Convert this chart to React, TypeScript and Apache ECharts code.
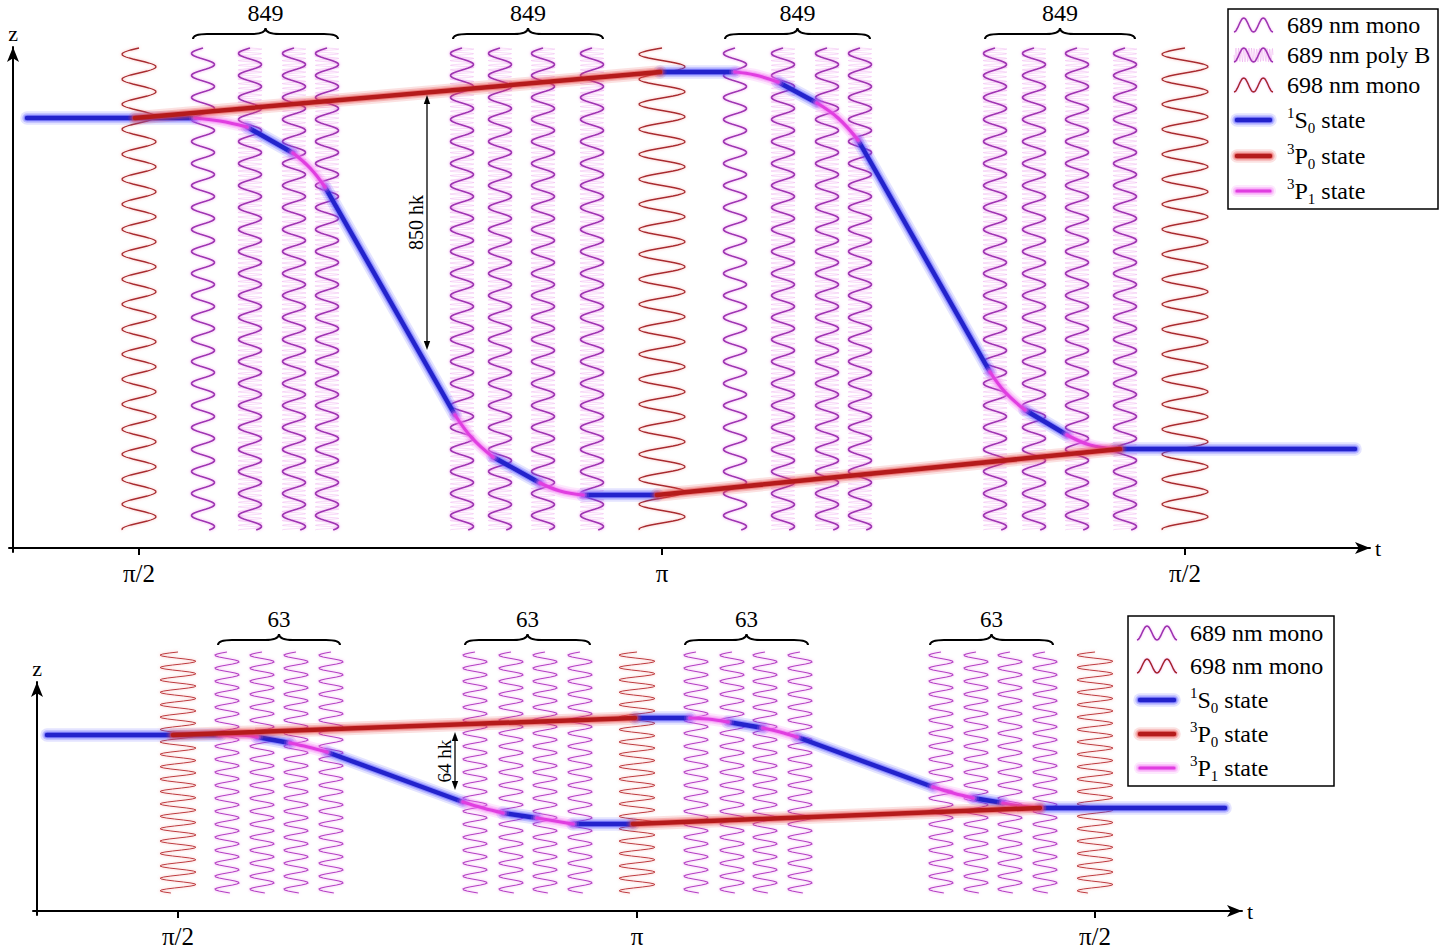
import React, { useEffect, useRef } from 'react';
import * as echarts from 'echarts';

const FONT = 'Liberation Serif';

// ---------------- TOP PANEL (849 pulses) ----------------
const topTickValues = [126, 649, 1172];
const topTickLabels = ['π/2', 'π', 'π/2'];
const topBeamX = [126, 190, 237, 281, 314, 449, 487, 530, 579, 649, 722, 770, 814, 847, 982, 1021, 1064, 1112, 1172];
const topBeamKind = ['698', '689m', '689p', '689p', '689p', '689p', '689p', '689p', '689p', '698w', '689m', '689p', '689p', '689p', '689p', '689p', '689p', '689p', '698w'];
const topBeamSpan = [18, 500];
const topBraces = [[180, 325], [440, 590], [712, 857], [972, 1122]];
const topBraceLabels = ['849', '849', '849', '849'];
const topBraceZ = 509;
const topS0 = [
  [[14, 430], [182, 430]],
  [[234, 421], [280, 395]],
  [[312, 361], [442, 133]],
  [[480, 91], [527, 65]],
  [[570, 53], [644, 53]],
  [[647, 476], [722, 476]],
  [[765, 466], [804, 445]],
  [[845, 408], [977, 176]],
  [[1012, 138], [1054, 113]],
  [[1102, 99], [1342, 99]],
];
const topP1 = [
  [[182, 430], [207, 427], [234, 421]],
  [[280, 395], [297, 380], [312, 361]],
  [[442, 133], [459, 110], [480, 91]],
  [[527, 65], [547, 57], [570, 53]],
  [[722, 476], [742, 473], [765, 466]],
  [[804, 445], [825, 430], [845, 408]],
  [[977, 176], [992, 156], [1012, 138]],
  [[1054, 113], [1077, 103], [1102, 99]],
];
const topP0 = [
  [[122, 430], [647, 476]],
  [[644, 53], [1107, 99]],
];
const topGapX = 414;
const topGapZ = [198, 453];
const topGapLabel = '850 hk';

// ---------------- BOTTOM PANEL (63 pulses) ----------------
const botTickValues = [141, 600, 1058];
const botTickLabels = ['π/2', 'π', 'π/2'];
const botBeamX = [141, 190, 225, 259, 294, 438, 474, 508, 543, 600, 659, 695, 728, 763, 904, 939, 973, 1008, 1058];
const botBeamKind = ['698s', '689s', '689s', '689s', '689s', '689s', '689s', '689s', '689s', '698s', '689s', '689s', '689s', '689s', '689s', '689s', '689s', '689s', '698s'];
const botBeamSpan = [18, 259];
const botBraces = [[181, 303], [428, 553], [648, 771], [893, 1016]];
const botBraceLabels = ['63', '63', '63', '63'];
const botBraceZ = 266;
const botS0 = [
  [[10, 176], [183, 176]],
  [[220, 174], [253, 168]],
  [[290, 159], [426, 109]],
  [[466, 98], [500, 93]],
  [[536, 87], [596, 87]],
  [[598, 193], [653, 193]],
  [[691, 189], [726, 183]],
  [[760, 174], [896, 124]],
  [[936, 113], [966, 108]],
  [[1003, 103], [1188, 103]],
];
const botP1 = [
  [[183, 176], [201, 176], [220, 174]],
  [[253, 168], [271, 164], [290, 159]],
  [[426, 109], [446, 103], [466, 98]],
  [[500, 93], [518, 90], [536, 87]],
  [[653, 193], [671, 192], [691, 189]],
  [[726, 183], [743, 179], [760, 174]],
  [[896, 124], [916, 118], [936, 113]],
  [[966, 108], [983, 105], [1003, 103]],
];
const botP0 = [
  [[136, 176], [598, 193]],
  [[596, 87], [1003, 103]],
];
const botGapX = 418;
const botGapZ = [121, 179];
const botGapLabel = '64 hk';

// ---------------- STYLES ----------------
const RED_WAVE = '#a82a2e';
const RED_GLOW = 'rgba(240,120,120,0.55)';
const MAG_WAVE = '#9e35b2';
const MAG_GLOW = 'rgba(235,120,235,0.7)';
const WAVE: any = {
  '698': { amp: 17, period: 25, color: RED_WAVE, glow: RED_GLOW, width: 1.3 },
  '698w': { amp: 23, period: 25, color: RED_WAVE, glow: RED_GLOW, width: 1.3 },
  '689m': { amp: 11.5, period: 22, color: MAG_WAVE, glow: MAG_GLOW, width: 1.7 },
  '689p': { amp: 11.5, period: 22, color: MAG_WAVE, glow: MAG_GLOW, width: 1.7, poly: 4.6 },
  '698s': { amp: 18, period: 12.4, color: '#bd3a3e', glow: RED_GLOW, width: 1.0 },
  '689s': { amp: 12, period: 13, color: '#b440c4', glow: MAG_GLOW, width: 1.2 },
};
const STATE: any = {
  S0: { color: '#2323cc', width: 4.5, halo: 'rgba(80,80,255,', z: 3 },
  P1: { color: '#e03ee0', width: 3.2, halo: 'rgba(245,110,245,', z: 4 },
  P0: { color: '#b51b1b', width: 4.5, halo: 'rgba(230,70,70,', z: 5 },
};
const HALO = [
  { extra: 9, alpha: 0.16 },
  { extra: 5, alpha: 0.28 },
  { extra: 2, alpha: 0.45 },
];

function waveSeries(gridIdx: number, xs: number[], kinds: string[], span: number[]) {
  return {
    type: 'custom',
    xAxisIndex: gridIdx,
    yAxisIndex: gridIdx,
    clip: false,
    silent: true,
    z: 1,
    data: xs.map((x) => [x, span[1]]),
    renderItem: (params: any, api: any) => {
      const i = params.dataIndex;
      const k = WAVE[kinds[i]];
      const top = api.coord([xs[i], span[1]]);
      const bot = api.coord([xs[i], span[0]]);
      const children: any[] = [];
      if (k.poly) {
        const bg: number[][] = [];
        for (let y = top[1]; y <= bot[1]; y += 0.5) {
          bg.push([top[0] + k.amp * 1.05 * Math.sin((2 * Math.PI * (y - top[1])) / k.poly), y]);
        }
        children.push({ type: 'polyline', shape: { points: bg }, style: { fill: 'none', stroke: 'rgba(232,140,232,0.45)', lineWidth: 0.7 } });
      }
      const pts: number[][] = [];
      for (let y = top[1]; y <= bot[1]; y += 1) {
        pts.push([top[0] + k.amp * Math.sin((2 * Math.PI * (y - top[1])) / k.period + Math.PI), y]);
      }
      children.push({ type: 'polyline', shape: { points: pts }, style: { fill: 'none', stroke: k.color, lineWidth: k.width, shadowBlur: 3, shadowColor: k.glow } });
      return { type: 'group', children };
    },
  };
}

function braceSeries(gridIdx: number, braces: number[][], labels: string[], zEnd: number, fs: number) {
  return {
    type: 'custom',
    xAxisIndex: gridIdx,
    yAxisIndex: gridIdx,
    clip: false,
    silent: true,
    data: braces.map((b) => [b[0], zEnd]),
    renderItem: (params: any, api: any) => {
      const i = params.dataIndex;
      const p0 = api.coord([braces[i][0], zEnd]);
      const p1 = api.coord([braces[i][1], zEnd]);
      const a = p0[0], b = p1[0], m = (a + b) / 2;
      const ye = p0[1], ym = ye - 5, yt = ye - 11, r = 14;
      const d = `M${a},${ye} Q${a},${ym} ${a + r},${ym} L${m - r},${ym} Q${m},${ym} ${m},${yt} Q${m},${ym} ${m + r},${ym} L${b - r},${ym} Q${b},${ym} ${b},${ye}`;
      return {
        type: 'group',
        children: [
          { type: 'path', shape: { pathData: d }, style: { fill: 'none', stroke: '#000', lineWidth: 2 } },
          { type: 'text', x: m, y: yt - 3, style: { text: labels[i], fontFamily: FONT, fontSize: fs, fill: '#000', align: 'center', verticalAlign: 'bottom' } },
        ],
      };
    },
  };
}

function gapSeries(gridIdx: number, x: number, z: number[], label: string, fs: number) {
  return {
    type: 'custom',
    xAxisIndex: gridIdx,
    yAxisIndex: gridIdx,
    clip: false,
    silent: true,
    z: 6,
    data: [[x, z[0]]],
    renderItem: (params: any, api: any) => {
      const t = api.coord([x, z[1]]);
      const b = api.coord([x, z[0]]);
      const h = 9, w = 3.2;
      return {
        type: 'group',
        children: [
          { type: 'line', shape: { x1: t[0], y1: t[1] + 4, x2: b[0], y2: b[1] - 4 }, style: { stroke: '#000', lineWidth: 1.3 } },
          { type: 'polygon', shape: { points: [[t[0], t[1]], [t[0] - w, t[1] + h], [t[0] + w, t[1] + h]] }, style: { fill: '#000' } },
          { type: 'polygon', shape: { points: [[b[0], b[1]], [b[0] - w, b[1] - h], [b[0] + w, b[1] - h]] }, style: { fill: '#000' } },
          { type: 'text', x: t[0] - 11, y: (t[1] + b[1]) / 2, rotation: Math.PI / 2, style: { text: label, fontFamily: FONT, fontSize: fs, fill: '#000', align: 'center', verticalAlign: 'middle' } },
        ],
      };
    },
  };
}

function stateSeries(gridIdx: number, segs: number[][][], key: string) {
  const s = STATE[key];
  const out: any[] = [];
  const base = (seg: number[][]) => ({
    type: 'line',
    xAxisIndex: gridIdx,
    yAxisIndex: gridIdx,
    data: seg,
    symbol: 'none',
    silent: true,
    clip: false,
    smooth: seg.length > 2 ? 0.4 : false,
    z: s.z,
  });
  segs.forEach((seg) => {
    HALO.forEach((h) => {
      out.push({ ...base(seg), lineStyle: { color: s.halo + h.alpha + ')', width: s.width + h.extra, cap: 'round' } });
    });
    out.push({ ...base(seg), lineStyle: { color: s.color, width: s.width, cap: 'round' } });
  });
  return out;
}

function xAxisFor(gridIdx: number, min: number, max: number, ticks: number[], labels: string[]) {
  return {
    gridIndex: gridIdx,
    type: 'value',
    min,
    max,
    name: 't',
    nameLocation: 'end',
    nameGap: 5,
    nameTextStyle: { fontFamily: FONT, fontSize: 22, color: '#000' },
    axisLine: { onZero: true, symbol: ['none', 'arrow'], symbolSize: [9, 15], lineStyle: { color: '#000', width: 2 } },
    axisTick: { show: true, customValues: ticks, length: 7, lineStyle: { color: '#000', width: 2 } },
    axisLabel: {
      customValues: ticks,
      formatter: (v: number) => {
        const idx = ticks.indexOf(Math.round(v));
        return idx >= 0 ? labels[idx] : '';
      },
      fontFamily: FONT,
      fontSize: 25,
      color: '#000',
      margin: 9,
    },
    splitLine: { show: false },
  };
}

function yAxisFor(gridIdx: number, min: number, max: number) {
  return {
    gridIndex: gridIdx,
    type: 'value',
    min,
    max,
    name: 'z',
    nameLocation: 'end',
    nameGap: 3,
    nameTextStyle: { fontFamily: FONT, fontSize: 22, color: '#000' },
    axisLine: { onZero: true, symbol: ['none', 'arrow'], symbolSize: [9, 15], lineStyle: { color: '#000', width: 2 } },
    axisTick: { show: false },
    axisLabel: { show: false },
    splitLine: { show: false },
  };
}

// ---------------- LEGENDS (graphic) ----------------
function waveIcon(x0: number, x1: number, cy: number, amp: number, color: string, poly: boolean) {
  const els: any[] = [];
  if (poly) {
    const bg: number[][] = [];
    for (let x = x0; x <= x1; x += 0.5) bg.push([x, cy + amp * Math.sin((2 * Math.PI * (x - x0)) / 2.6)]);
    els.push({ type: 'polyline', shape: { points: bg }, style: { fill: 'none', stroke: 'rgba(232,140,232,0.55)', lineWidth: 0.7 } });
  }
  const pts: number[][] = [];
  for (let i = 0; i <= 60; i++) {
    const t = i / 60;
    pts.push([x0 + t * (x1 - x0), cy + amp * Math.cos(2 * Math.PI * 2 * t)]);
  }
  els.push({ type: 'polyline', shape: { points: pts }, style: { fill: 'none', stroke: color, lineWidth: 1.6, shadowBlur: 2, shadowColor: 'rgba(235,120,235,0.5)' } });
  return els;
}
function stateIcon(x0: number, x1: number, cy: number, key: string) {
  const s = STATE[key];
  const els: any[] = HALO.map((h) => ({ type: 'line', shape: { x1: x0, y1: cy, x2: x1, y2: cy }, style: { stroke: s.halo + h.alpha + ')', lineWidth: s.width + h.extra, lineCap: 'round' } }));
  els.push({ type: 'line', shape: { x1: x0, y1: cy, x2: x1, y2: cy }, style: { stroke: s.color, lineWidth: s.width, lineCap: 'round' } });
  return els;
}
const RICH = {
  sup: { fontFamily: FONT, fontSize: 15, lineHeight: 16, verticalAlign: 'top', fill: '#000' },
  sub: { fontFamily: FONT, fontSize: 15, lineHeight: 16, verticalAlign: 'bottom', fill: '#000' },
};
function legendText(x: number, cy: number, text: string) {
  return {
    type: 'text',
    x,
    y: cy,
    style: { text, fontFamily: FONT, fontSize: 24, lineHeight: 30, fill: '#000', align: 'left', verticalAlign: 'middle', rich: RICH },
  };
}
function buildLegend(box: number[], iconX: number[], textX: number, rows: any[]) {
  const els: any[] = [
    { type: 'rect', shape: { x: box[0], y: box[1], width: box[2], height: box[3] }, style: { fill: '#fff', stroke: '#000', lineWidth: 1.5 }, z: 10 },
  ];
  rows.forEach((r) => {
    let icon: any[];
    if (r.kind === 'S0' || r.kind === 'P0' || r.kind === 'P1') icon = stateIcon(iconX[0] + 3, iconX[1] - 3, r.y, r.kind);
    else icon = waveIcon(iconX[0], iconX[1], r.y, 7, r.kind === '698' ? RED_WAVE : MAG_WAVE, r.kind === '689p');
    icon.forEach((e) => els.push({ ...e, z: 11 }));
    els.push({ ...legendText(textX, r.y, r.text), z: 11 });
  });
  return els;
}
const topLegendRows = [
  { kind: '689m', text: '689 nm mono', y: 25 },
  { kind: '689p', text: '689 nm poly B', y: 55 },
  { kind: '698', text: '698 nm mono', y: 85 },
  { kind: 'S0', text: '{sup|1}S{sub|0} state', y: 120 },
  { kind: 'P0', text: '{sup|3}P{sub|0} state', y: 156 },
  { kind: 'P1', text: '{sup|3}P{sub|1} state', y: 191 },
];
const botLegendRows = [
  { kind: '689m', text: '689 nm mono', y: 633 },
  { kind: '698', text: '698 nm mono', y: 666 },
  { kind: 'S0', text: '{sup|1}S{sub|0} state', y: 700 },
  { kind: 'P0', text: '{sup|3}P{sub|0} state', y: 734 },
  { kind: 'P1', text: '{sup|3}P{sub|1} state', y: 768 },
];

export default function App() {
  const ref = useRef<HTMLDivElement>(null);
  useEffect(() => {
    if (!ref.current) return;
    const chart = echarts.init(ref.current, undefined, { renderer: 'svg' });
    const option: any = {
      animation: false,
      backgroundColor: '#fff',
      textStyle: { fontFamily: FONT },
      grid: [
        { left: 9, top: 47, width: 1361, height: 505 },
        { left: 33, top: 682, width: 1209, height: 233 },
      ],
      xAxis: [
        xAxisFor(0, -4, 1357, topTickValues, topTickLabels),
        xAxisFor(1, -4, 1205, botTickValues, botTickLabels),
      ],
      yAxis: [yAxisFor(0, -4, 501), yAxisFor(1, -4, 229)],
      series: [
        waveSeries(0, topBeamX, topBeamKind, topBeamSpan),
        waveSeries(1, botBeamX, botBeamKind, botBeamSpan),
        braceSeries(0, topBraces, topBraceLabels, topBraceZ, 24),
        braceSeries(1, botBraces, botBraceLabels, botBraceZ, 23),
        ...stateSeries(0, topS0, 'S0'),
        ...stateSeries(0, topP1, 'P1'),
        ...stateSeries(0, topP0, 'P0'),
        ...stateSeries(1, botS0, 'S0'),
        ...stateSeries(1, botP1, 'P1'),
        ...stateSeries(1, botP0, 'P0'),
        gapSeries(0, topGapX, topGapZ, topGapLabel, 20),
        gapSeries(1, botGapX, botGapZ, botGapLabel, 19),
      ],
      graphic: [
        ...buildLegend([1228, 9, 210, 200], [1234, 1273], 1287, topLegendRows),
        ...buildLegend([1128, 616, 206, 170], [1137, 1177], 1190, botLegendRows),
      ],
    };
    chart.setOption(option);
    return () => chart.dispose();
  }, []);
  return <div ref={ref} style={{ position: 'absolute', left: 0, top: 0, width: 1445, height: 949, background: '#fff' }} />;
}
